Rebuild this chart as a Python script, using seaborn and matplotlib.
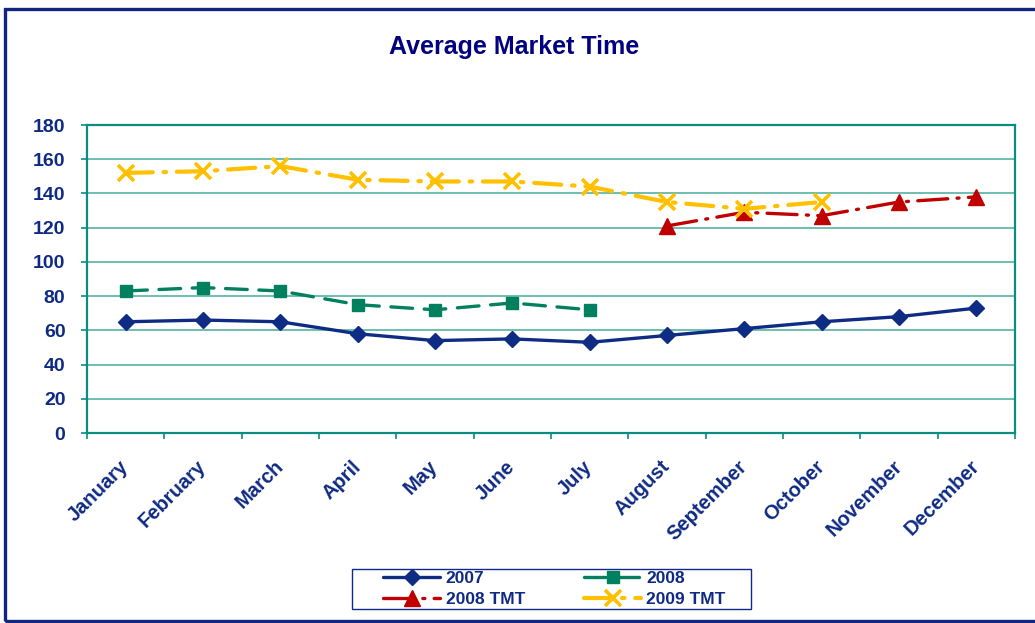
import numpy as np
import pandas as pd
import matplotlib
matplotlib.use("Agg")
import matplotlib.pyplot as plt
import matplotlib.patches as mpatches
import seaborn as sns

# ---- data ----
months = ["January", "February", "March", "April", "May", "June", "July",
          "August", "September", "October", "November", "December"]
nan = np.nan
y2007 = [65, 66, 65, 58, 54, 55, 53, 57, 61, 65, 68, 73]
y2008 = [83, 85, 83, 75, 72, 76, 72, nan, nan, nan, nan, nan]
tmt2008 = [nan, nan, nan, nan, nan, nan, nan, 121, 129, 127, 135, 138]
tmt2009 = [152, 153, 156, 148, 147, 147, 144, 135, 131, 135, nan, nan]
yticks = [0, 20, 40, 60, 80, 100, 120, 140, 160, 180]
title = "Average Market Time"

sns.set_style("white")
plt.rcParams["font.family"] = ["Liberation Sans", "DejaVu Sans"]

W, H = 1035, 623
fig = plt.figure(figsize=(W / 100, H / 100), dpi=100)
ax = fig.add_axes([87 / W, 1 - 433 / H, (1015 - 87) / W, (433 - 125) / H])

navy = "#0F2A84"
teal = "#0A8C80"
grid_c = "#55B3A2"

df = pd.DataFrame({"idx": np.arange(12), "2007": y2007, "2008": y2008,
                   "2008 TMT": tmt2008, "2009 TMT": tmt2009})

series = [
    ("2007", "#0F2C85", "D", 8, (0, ()), 2.4, 1.0),
    ("2008", "#00805E", "s", 9, (0, (6.5, 3.5)), 2.4, 1.0),
    ("2008 TMT", "#C00000", "^", 12, (0, (9, 2.8, 0.6, 2.8)), 2.4, 1.0),
    ("2009 TMT", "#FFC000", "x", 11, (0, (6.5, 2.6, 0.6, 2.6)), 3.0, 2.6),
]
for name, col, mk, ms, ls, lw, mew in series:
    sub = df[["idx", name]].dropna()
    sns.lineplot(data=sub, x="idx", y=name, ax=ax, color=col, marker=mk,
                 markersize=ms, markeredgecolor=col, markerfacecolor=col,
                 markeredgewidth=mew, linewidth=lw, linestyle=ls,
                 dash_capstyle="round", label=name, zorder=3)

ax.set_xlim(-0.5, 11.5)
ax.set_ylim(0, 180)
ax.set_yticks(yticks)
ax.set_yticklabels([str(t) for t in yticks])
ax.set_xticks(range(12))
ax.set_xticklabels(months, rotation=45, ha="right", va="center",
                   rotation_mode="anchor")
ax.set_xticks(np.arange(-0.5, 12, 1), minor=True)
ax.set_xlabel("")
ax.set_ylabel("")

ax.yaxis.grid(True, color=grid_c, linewidth=1.2, zorder=0)
ax.xaxis.grid(False)
ax.set_axisbelow(True)
for s in ax.spines.values():
    s.set_color(teal)
    s.set_linewidth(1.6)

ax.tick_params(axis="y", direction="out", length=4.5, width=1.2, color=teal,
               labelsize=14, labelcolor=navy, pad=11, left=True)
ax.tick_params(axis="x", which="major", length=0, labelsize=14.5,
               labelcolor=navy, pad=22)
ax.tick_params(axis="x", which="minor", direction="out", length=4.5,
               width=1.2, color=teal, bottom=True)
for lab in ax.get_yticklabels() + ax.get_xticklabels():
    lab.set_fontweight("bold")

fig.text(514 / W, 1 - 47 / H, title, ha="center", va="center",
         fontsize=18, fontweight="bold", color="#000080")

handles, labels = ax.get_legend_handles_labels()
if ax.get_legend() is not None:
    ax.get_legend().remove()
order = [0, 2, 1, 3]
leg = fig.legend([handles[i] for i in order], [labels[i] for i in order],
                 loc="upper left", bbox_to_anchor=(383 / W, 1 - 571 / H),
                 ncol=2, frameon=False, borderpad=0, borderaxespad=0,
                 handlelength=3.3, handletextpad=0.3, columnspacing=3.4,
                 labelspacing=0.32,
                 prop={"family": "Liberation Sans", "weight": "bold", "size": 12.5})
for t in leg.get_texts():
    t.set_color(navy)

# legend box
fig.patches.append(mpatches.Rectangle((352 / W, 1 - 609 / H), (751 - 352) / W,
                                      40 / H, transform=fig.transFigure,
                                      fill=False, edgecolor=navy, linewidth=1.0))
# outer frame
fig.patches.append(mpatches.Rectangle((4.5 / W, 1 - 621 / H), 1.0, (621 - 8.5) / H,
                                      transform=fig.transFigure, fill=False,
                                      edgecolor="#0F2580", linewidth=2.4))

fig.savefig("out.png", dpi=100)
